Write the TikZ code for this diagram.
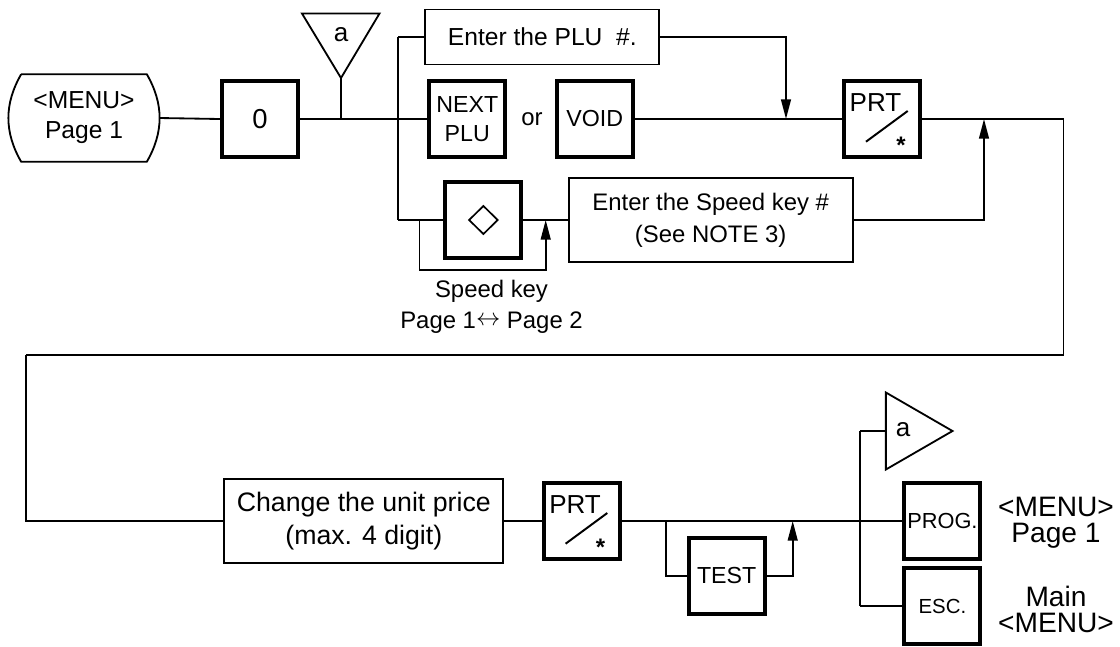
\documentclass[tikz,border=0pt]{standalone}
\usepackage{fontspec}
\setmainfont{Liberation Sans}
\usetikzlibrary{arrows.meta}

\newcommand\prtface[1]{%
	\node[font=\fontsize{18.5}{18.5}\selectfont] at ([shift={(-6.5,-16)}]#1.center) {PRT};
	\draw[line width=1.4pt] ([shift={(-16,22.7)}]#1.center) -- ([shift={(25.7,-8)}]#1.center);
	\node[font=\fontsize{17}{17}\selectfont\bfseries, anchor=base] at ([shift={(19,34.5)}]#1.center) {*};
}

\begin{document}
\begin{tikzpicture}[x=0.025cm, y=-0.025cm,
	every node/.style={font=\fontsize{17}{22}\selectfont, align=center, inner sep=0pt},
	wire/.style={line width=1.3pt},
	arrowline/.style={wire, -{Triangle[length=14pt,width=7pt]}},
	keybox/.style={draw, line width=2.8pt, minimum width=1.9cm, minimum height=1.9cm},
	entrybox/.style={draw, line width=1.4pt}]
	\useasboundingbox (0,0) rectangle (1120,646);

	% upper row
	\node[minimum width=3.75cm, minimum height=2.175cm, font=\fontsize{17.5}{21.3}\selectfont] (menu) at (84,118) {<MENU>\\Page 1};
	\draw[wire] ([shift={(12.5,0)}]menu.north west) -- ([shift={(-12.5,0)}]menu.north east)
		to[bend left=30] ([shift={(-12.5,0)}]menu.south east) -- ([shift={(12.5,0)}]menu.south west)
		to[bend left=30] ([shift={(12.5,0)}]menu.north west);
	\node[keybox, font=\fontsize{19.5}{20}\selectfont] (zero) at (260,119) {0};
	\coordinate (atip) at (341,78);
	\draw[wire] (302,13.5) -- (379.5,13.5) -- (atip) -- cycle;
	\node[font=\fontsize{18.5}{18.5}\selectfont] (atop) at (341,35) {a};
	\coordinate (fork) at (398,119);
	\coordinate (forkup) at (398,37);
	\coordinate (forkdn) at (398,220);
	\node[entrybox, minimum width=5.85cm, minimum height=1.375cm, font=\fontsize{17.5}{20}\selectfont] (plu) at (542.3,37) {Enter the PLU\ \ \#.};
	\node[keybox, font=\fontsize{16.5}{20.6}\selectfont] (next) at (467.3,119) {NEXT\\PLU};
	\node (or) at (532,119) {or};
	\node[keybox, font=\fontsize{16.5}{20}\selectfont] (void) at (594.7,119) {VOID};
	\node[keybox] (prt) at (882,119) {};
	\prtface{prt}
	\coordinate (pludrop) at (786,119);
	\coordinate (spdrise) at (984,119);
	\coordinate (turnR) at (1063.5,355);
	\coordinate (turnL) at (26,355);

	\draw[wire] (menu.east) -- (zero.west);
	\draw[wire] (zero.east) -- (next.west);
	\draw[wire] (atip) -- (atip |- fork);
	\draw[wire] (forkup) -- (forkdn);
	\draw[wire] (forkup) -- (plu.west);
	\draw[wire] (void.east) -- (prt.west);
	\draw[arrowline] (plu.east) -| (pludrop);

	% speed key row
	\node[keybox] (dia) at (483.4,220) {};
	\draw[line width=1.2pt] ([shift={(-14.3,0)}]dia.center) -- ([shift={(0,-14)}]dia.center)
		-- ([shift={(14.3,0)}]dia.center) -- ([shift={(0,14)}]dia.center) -- cycle;
	\node[entrybox, minimum width=7.1cm, minimum height=2.1cm, font=\fontsize{17}{22.5}\selectfont] (spd) at (710.7,220) {Enter the Speed key \#\\(See NOTE 3)};
	\coordinate (pgin) at (419.5,220);
	\coordinate (pgout) at (545.7,220);
	\node (pagenote) at (491.5,307) {Speed key\\Page 1\raisebox{2pt}{\fontsize{16}{16}\selectfont$\leftrightarrow$} Page 2};

	\draw[wire] (forkdn) -- (dia.west);
	\draw[wire] (dia.east) -- (spd.west);
	\draw[arrowline] (pgin) -- ++(0,50) -| (pgout);
	\draw[arrowline] (spd.east) -| (spdrise);
	\draw[wire] (prt.east) -| (turnR) -- (turnL);

	% lower row
	\node[entrybox, minimum width=6.975cm, minimum height=2.1cm, font=\fontsize{19}{23.5}\selectfont] (chg) at (363.8,521) {Change the unit price\\(max. 4 digit)};
	\node[keybox] (prt2) at (581.6,521) {};
	\prtface{prt2}
	\coordinate (testin) at (666,521);
	\node[keybox, font=\fontsize{16.5}{16.5}\selectfont] (test) at (726.7,576) {TEST};
	\coordinate (testout) at (792.7,521);
	\coordinate (fork2) at (860,521);
	\coordinate (fork2up) at (860,431);
	\coordinate (fork2dn) at (860,606);
	\coordinate (abase) at (885.9,431);
	\draw[wire] (885.9,392.5) -- (952.5,431) -- (885.9,469.5) -- cycle;
	\node[font=\fontsize{18.5}{18.5}\selectfont] (aright) at (903,430) {a};
	\node[keybox, font=\fontsize{15.5}{16}\selectfont] (prog) at (942.4,521) {PROG.};
	\node[keybox, font=\fontsize{14.5}{15}\selectfont] (esc) at (942.4,606) {ESC.};
	\node[font=\fontsize{20}{18.5}\selectfont] (backmenu) at (1056,523) {<MENU>\\Page 1};
	\node[font=\fontsize{20}{18.5}\selectfont] (mainmenu) at (1056,609) {Main\\<MENU>};

	\draw[wire] (turnL) |- (chg.west);
	\draw[wire] (chg.east) -- (prt2.west);
	\draw[wire] (prt2.east) -- (prog.west);
	\draw[wire] (testin) |- (test.west);
	\draw[arrowline] (test.east) -| (testout);
	\draw[wire] (fork2up) -- (fork2dn);
	\draw[wire] (fork2up) -- (abase);
	\draw[wire] (fork2dn) -- (esc.west);
\end{tikzpicture}
\end{document}
